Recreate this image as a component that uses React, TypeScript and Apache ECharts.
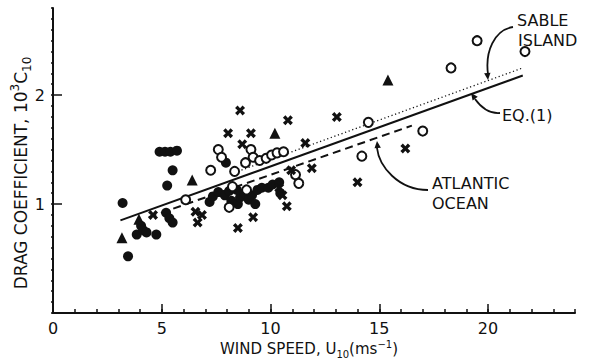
import React, { useEffect, useRef } from "react";
import * as echarts from "echarts";

// ---- data ----
const xTickLabels = [0, 5, 10, 15, 20];
const yTickLabels = [1, 2];

const filledCircles: number[][] = [
  [3.2, 1.01], [3.45, 0.52], [3.85, 0.72], [4.05, 0.8], [4.15, 0.76], [4.3, 0.74], [4.75, 0.72],
  [5.2, 0.92], [5.35, 0.87], [5.5, 0.83],
  [4.9, 1.48], [5.15, 1.48], [5.4, 1.48], [5.7, 1.49],
  [5.5, 1.31], [5.25, 1.17],
  [7.2, 1.02], [7.35, 1.07], [7.6, 1.11], [7.9, 1.08], [8.1, 1.12], [8.2, 1.03], [8.5, 1.0],
  [8.6, 1.06], [8.8, 1.1], [9.0, 1.04], [9.15, 1.08], [9.4, 1.13], [9.6, 1.15], [9.9, 1.15],
  [10.1, 1.18], [10.4, 1.2], [8.45, 1.13], [9.3, 1.0], [7.95, 1.38], [10.45, 1.1],
];

const openCircles: number[][] = [
  [6.1, 1.04], [7.25, 1.31], [7.6, 1.5], [7.75, 1.43], [8.35, 1.3], [8.1, 0.97], [8.25, 1.16],
  [8.9, 1.13], [8.85, 1.38], [9.1, 1.5], [9.2, 1.43], [9.5, 1.4], [9.8, 1.42], [10.05, 1.45],
  [10.3, 1.47], [10.6, 1.48], [11.15, 1.27], [11.3, 1.19],
  [14.5, 1.75], [17.0, 1.67], [14.2, 1.44], [18.3, 2.25], [19.5, 2.5], [21.7, 2.4],
];

const crosses: number[][] = [
  [4.6, 0.9], [6.55, 0.93], [6.85, 0.9], [6.65, 0.83],
  [8.6, 1.86], [8.05, 1.65], [9.1, 1.65], [8.7, 1.55], [10.8, 1.77],
  [8.5, 0.78], [9.2, 0.88], [10.55, 1.08], [10.4, 1.15], [10.75, 0.98],
  [11.6, 1.56], [10.95, 1.31], [11.9, 1.33], [13.05, 1.8], [16.2, 1.51], [14.0, 1.2],
];

const triangles: number[][] = [
  [3.17, 0.69], [3.95, 0.86], [6.4, 1.22], [10.2, 1.65], [15.4, 2.14],
];

const eq1Line: number[][] = [[3.1, 0.85], [21.6, 2.18]];
const sableLine: number[][] = [[8.5, 1.3], [21.6, 2.25]];
const atlanticLine: number[][] = [[4.4, 0.88], [16.5, 1.72]];

// ---- styling ----
const INK = "#111";
const FONT = "DejaVu Sans";
const CROSS = "path://M0,2.5L2.5,0L5,2.8L7.5,0L10,2.5L7.3,5L10,7.5L7.5,10L5,7.2L2.5,10L0,7.5L2.7,5Z";

function arrowHead(tip: number[], from: number[], len = 7, half = 3.2) {
  const dx = tip[0] - from[0];
  const dy = tip[1] - from[1];
  const d = Math.hypot(dx, dy) || 1;
  const ux = dx / d, uy = dy / d;
  const bx = tip[0] - ux * len, by = tip[1] - uy * len;
  return {
    type: "polygon",
    shape: { points: [tip, [bx - uy * half, by + ux * half], [bx + uy * half, by - ux * half]] },
    style: { fill: INK },
    silent: true,
  };
}

function curve(p1: number[], c1: number[], c2: number[], p2: number[]) {
  return {
    type: "bezierCurve",
    shape: { x1: p1[0], y1: p1[1], cpx1: c1[0], cpy1: c1[1], cpx2: c2[0], cpy2: c2[1], x2: p2[0], y2: p2[1] },
    style: { stroke: INK, lineWidth: 1.8, fill: "none" },
    silent: true,
  };
}

function label(text: string, x: number, y: number, size = 16) {
  return {
    type: "text",
    x, y,
    style: { text, fill: INK, font: `${size}px ${FONT}`, align: "left", verticalAlign: "middle" },
    silent: true,
  };
}

export default function App() {
  const ref = useRef<HTMLDivElement>(null);
  useEffect(() => {
    if (!ref.current) return;
    const chart = echarts.init(ref.current, null, { renderer: "svg" });
    const lineSeries = (data: number[][], type: any, width: number) => ({
      type: "line",
      data,
      showSymbol: false,
      symbol: "none",
      silent: true,
      lineStyle: { color: INK, width, type, opacity: 1 },
      z: 2,
    });
    const option: any = {
      animation: false,
      backgroundColor: "#fff",
      grid: { left: 53, right: 19, top: 8, bottom: 47, containLabel: false },
      xAxis: [
        {
          type: "value", min: 0, max: 24, interval: 1,
          axisLine: { show: true, lineStyle: { color: INK, width: 2 } },
          axisTick: { show: true, inside: true, length: 4, lineStyle: { color: INK, width: 1.5 } },
          axisLabel: { show: false },
          splitLine: { show: false },
        },
        {
          type: "value", min: 0, max: 24, interval: 5, position: "bottom",
          axisLine: { show: false },
          axisTick: { show: true, inside: true, length: 9, customValues: [5, 10, 15, 20], lineStyle: { color: INK, width: 1.5 } },
          axisLabel: { show: true, customValues: xTickLabels, color: INK, fontFamily: FONT, fontSize: 16, margin: 7 },
          splitLine: { show: false },
        },
      ],
      yAxis: [
        {
          type: "value", min: 0, max: 2.8, interval: 0.1,
          axisLine: { show: true, lineStyle: { color: INK, width: 2 } },
          axisTick: { show: true, inside: false, length: 2, lineStyle: { color: INK, width: 1.5 } },
          axisLabel: { show: false },
          splitLine: { show: false },
        },
        {
          type: "value", min: 0, max: 2.8, interval: 1, position: "left",
          axisLine: { show: false },
          axisTick: { show: true, inside: true, length: 9, customValues: yTickLabels, lineStyle: { color: INK, width: 1.5 } },
          axisLabel: { show: true, customValues: yTickLabels, color: INK, fontFamily: FONT, fontSize: 16, margin: 8 },
          splitLine: { show: false },
        },
      ],
      series: [
        lineSeries(eq1Line, "solid", 2),
        lineSeries(sableLine, [1.2, 2.6], 1.3),
        lineSeries(atlanticLine, [8, 5], 2),
        {
          type: "scatter", data: filledCircles, symbol: "circle", symbolSize: 10,
          itemStyle: { color: INK, opacity: 1 }, z: 3, silent: true,
        },
        {
          type: "scatter", data: openCircles, symbol: "circle", symbolSize: 9,
          itemStyle: { color: "#fff", borderColor: INK, borderWidth: 2, opacity: 1 }, z: 4, silent: true,
        },
        {
          type: "scatter", data: crosses, symbol: CROSS, symbolSize: 10,
          itemStyle: { color: INK, opacity: 1 }, z: 4, silent: true,
        },
        {
          type: "scatter", data: triangles, symbol: "triangle", symbolSize: 11,
          itemStyle: { color: INK, opacity: 1 }, z: 4, silent: true,
        },
      ],
      graphic: [
        // axis titles
        {
          type: "text", x: 309, y: 349, silent: true,
          style: {
            text: "{a|WIND SPEED, U}{b|10}{a|(ms}{c|−1}{a|)}",
            align: "center", verticalAlign: "middle",
            rich: {
              a: { fontFamily: FONT, fontSize: 15, fill: INK, lineHeight: 20 },
              b: { fontFamily: FONT, fontSize: 10, fill: INK, verticalAlign: "bottom" },
              c: { fontFamily: FONT, fontSize: 10, fill: INK, verticalAlign: "top" },
            },
          },
        },
        {
          type: "text", x: 21, y: 173, rotation: Math.PI / 2, silent: true,
          style: {
            text: "{a|DRAG COEFFICIENT, 10}{c|3}{a|C}{b|10}",
            align: "center", verticalAlign: "middle",
            rich: {
              a: { fontFamily: FONT, fontSize: 17, fill: INK, lineHeight: 24 },
              b: { fontFamily: FONT, fontSize: 12, fill: INK, verticalAlign: "bottom" },
              c: { fontFamily: FONT, fontSize: 12, fill: INK, verticalAlign: "top" },
            },
          },
        },
        // annotations
        label("SABLE", 517, 20),
        label("ISLAND", 518, 40),
        label("EQ.(1)", 502, 115),
        label("ATLANTIC", 432, 183),
        label("OCEAN", 432, 203),
        curve([513, 27], [494, 30], [485, 52], [488, 74]),
        arrowHead([488, 80], [487, 70]),
        curve([500, 113], [488, 114], [480, 106], [475, 99]),
        arrowHead([471, 93], [477, 101]),
        curve([428, 190], [398, 190], [379, 166], [377, 148]),
        arrowHead([377, 141], [378, 151]),
      ],
    };
    chart.setOption(option);
    return () => chart.dispose();
  }, []);
  return (
    <div
      ref={ref}
      style={{ position: "fixed", left: 0, top: 0, width: 594, height: 360, background: "#fff" }}
    />
  );
}
